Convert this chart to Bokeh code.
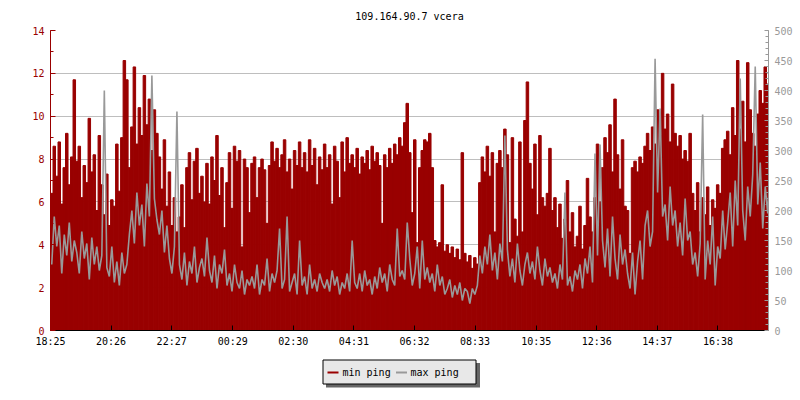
from bokeh.plotting import figure
from bokeh.layouts import column
from bokeh.core.properties import value
from bokeh.models import (Range1d, LinearAxis, SingleIntervalTicker, FixedTicker)
from bokeh.embed import file_html
from bokeh.resources import INLINE

title_text = "109.164.90.7 vcera"
start_time = "18:25"
step_min = 5
tick_labels = ["18:25", "20:26", "22:27", "00:29", "02:30", "04:31",
               "06:32", "08:33", "10:35", "12:36", "14:37", "16:38"]
series_names = ["min ping", "max ping"]

min_ping = [
    6.4, 8.6, 7.2, 8.8, 5.9, 7.6, 9.2, 6.8, 8.1, 11.7,
    7.9, 8.6, 6.2, 7.7, 6.9, 9.9, 7.4, 8.2, 5.6, 9.1,
    6.8, 5.4, 7.3, 4.9, 6.1, 5.8, 8.7, 6.5, 9.0, 12.6,
    11.7, 7.6, 9.5, 12.3, 8.7, 10.4, 9.1, 11.9, 9.6, 10.8,
    8.4, 10.3, 9.2, 8.1, 6.6, 8.9, 5.8, 7.4, 4.9, 6.2,
    4.6, 5.3, 6.8, 4.8, 7.6, 8.3, 6.1, 7.9, 8.5, 6.4,
    7.2, 6.0, 7.8, 5.9, 8.1, 7.0, 9.1, 6.3, 7.6, 4.8,
    6.9, 8.3, 5.7, 8.6, 7.9, 8.4, 3.9, 8.0, 7.6, 5.5,
    7.8, 8.1, 6.2, 7.6, 8.0, 7.5, 5.0, 7.7, 8.8, 7.9,
    8.5, 7.6, 8.2, 8.9, 7.4, 8.0, 6.6, 8.4, 7.7, 8.8,
    7.6, 8.3, 7.4, 8.9, 7.7, 8.5, 6.8, 8.1, 7.5, 8.7,
    7.6, 8.2, 5.9, 8.6, 7.9, 6.2, 8.8, 7.4, 9.0, 7.8,
    8.2, 7.6, 8.5, 7.3, 8.1, 7.8, 8.4, 7.5, 8.6, 7.9,
    8.3, 7.7, 5.0, 8.2, 7.6, 8.5, 7.8, 8.7, 8.2, 9.0,
    8.6, 9.7, 10.6, 8.3, 5.5, 8.9, 4.1, 7.6, 8.4, 8.9,
    8.8, 9.2, 7.6, 4.2, 3.9, 4.1, 6.8, 3.7, 4.0, 3.6,
    3.9, 3.4, 3.8, 3.3, 8.3, 3.6, 3.2, 3.5, 2.9, 3.4,
    3.1, 6.9, 8.1, 7.4, 8.6, 7.2, 8.3, 4.6, 7.8, 8.4,
    7.6, 9.4, 8.2, 4.1, 9.0, 5.2, 4.4, 8.8, 4.6, 9.8,
    11.6, 7.8, 6.6, 8.7, 5.4, 9.1, 6.2, 5.8, 6.4, 8.5,
    5.6, 6.2, 4.8, 5.9, 4.3, 5.2, 7.0, 4.6, 5.5, 3.9,
    4.4, 5.8, 3.8, 4.9, 7.1, 5.3, 4.6, 6.2, 8.7, 6.0,
    7.6, 9.0, 8.3, 9.6, 7.4, 10.8, 8.2, 6.6, 8.9, 5.8,
    5.6, 3.6, 7.6, 7.9, 7.4, 8.1, 7.8, 8.6, 9.2, 8.4,
    9.5, 8.7, 10.3, 9.1, 12.0, 9.4, 10.1, 8.8, 11.5, 9.2,
    8.6, 9.1, 8.0, 8.4, 7.9, 9.2, 6.4, 5.6, 6.9, 4.6,
    6.2, 5.4, 6.7, 4.9, 6.1, 5.7, 6.8, 6.4, 8.5, 8.9,
    9.3, 8.2, 10.4, 9.1, 12.6, 9.4, 10.7, 8.8, 12.5, 10.3,
    9.2, 8.6, 10.1, 11.2, 10.6, 12.3, 11.5, 12.4,
]

max_ping = [
    110, 190, 140, 175, 95, 160, 125, 180, 115, 150,
    130, 95, 165, 120, 145, 85, 155, 110, 140, 100,
    125, 400, 105, 90, 140, 80, 115, 75, 130, 95,
    110, 160, 200, 145, 230, 175, 210, 140, 245, 190,
    425, 220, 185, 160, 200, 130, 175, 120, 95, 140,
    365, 110, 85, 130, 75, 115, 95, 140, 80, 105,
    120, 90, 155, 100, 80, 125, 70, 110, 95, 135,
    75, 95, 65, 110, 80, 70, 100, 60, 85, 75,
    90, 70, 110, 60, 85, 75, 120, 65, 95, 80,
    100, 170, 70, 85, 190, 65, 80, 95, 60, 150,
    75, 90, 60, 110, 70, 85, 65, 95, 80, 70,
    85, 65, 100, 75, 90, 60, 80, 70, 95, 65,
    150, 80, 70, 95, 65, 100, 75, 85, 60, 90,
    70, 105, 80, 95, 65, 110, 85, 75, 170, 90,
    100, 85, 180, 120, 75, 95, 140, 70, 150, 85,
    105, 80, 95, 65, 110, 75, 90, 60, 70, 85,
    55, 75, 60, 80, 50, 70, 65, 45, 70, 60,
    75, 125, 95, 140, 110, 160, 100, 130, 85, 145,
    115, 325, 135, 90, 120, 80, 145, 100, 75, 110,
    130, 95, 115, 85, 140, 100, 75, 120, 90, 105,
    80, 95, 70, 110, 85, 230, 75, 90, 65, 100,
    85, 110, 70, 120, 95, 140, 80, 295, 125, 310,
    150, 105, 170, 90, 190, 120, 85, 160, 110, 135,
    95, 70, 130, 60, 115, 150, 85, 175, 200, 140,
    165, 453, 230, 370, 190, 210, 150, 240, 175, 200,
    140, 180, 125, 220, 150, 165, 110, 130, 90, 145,
    360, 85, 150, 110, 190, 75, 140, 120, 200, 135,
    180, 230, 140, 250, 175, 420, 200, 150, 240, 190,
    260, 440, 210, 280, 170, 240, 195, 280,
]

RED = "#990000"
GRAY = "#999999"
FONT = "DejaVu Sans Mono"
FS = "10px"


def to_min(s):
    h, m = s.split(":")
    return int(h) * 60 + int(m)


t0 = to_min(start_time)
tick_pos = [(to_min(s) - t0) % 1440 for s in tick_labels]
xs = [step_min * i + step_min / 2 for i in range(len(min_ping))]

FW, LEFT, RIGHT = 718, 50, 32

p = figure(frame_width=FW, frame_height=300,
           x_range=Range1d(0, 1434), y_range=Range1d(0, 14),
           output_backend="svg", toolbar_location=None,
           min_border_left=LEFT, min_border_right=RIGHT, min_border_top=0,
           min_border_bottom=22, outline_line_color=None,
           background_fill_color="white", border_fill_color="white")
p.extra_y_ranges = {"right": Range1d(0, 500)}

p.title.text = title_text
p.title.align = "center"
p.title.text_font = FONT
p.title.text_font_size = FS
p.title.text_font_style = "normal"
p.title.text_color = "black"
p.title.standoff = 17

# min ping area (bars)
p.vbar(x=xs, top=min_ping, bottom=0, width=step_min,
       fill_color=RED, line_color=RED, line_width=1)
# max ping line on right axis
p.line(xs, max_ping, y_range_name="right", line_color=GRAY, line_width=1.6)

# x axis
xa = p.xaxis[0]
xa.ticker = FixedTicker(ticks=tick_pos)
xa.major_label_overrides = {tp: lab for tp, lab in zip(tick_pos, tick_labels)}
xa.axis_line_color = "black"
xa.major_tick_line_color = "black"
xa.major_tick_in = 5
xa.major_tick_out = 0
xa.minor_tick_line_color = None
xa.major_label_text_font = FONT
xa.major_label_text_font_size = FS
xa.major_label_text_color = "black"
xa.major_label_standoff = 5
p.xgrid.visible = False

# left axis
ya = p.yaxis[0]
ya.ticker = SingleIntervalTicker(interval=2, num_minor_ticks=2)
ya.axis_line_color = RED
ya.major_tick_line_color = RED
ya.minor_tick_line_color = RED
ya.major_tick_in = 5
ya.major_tick_out = 0
ya.minor_tick_in = 3
ya.minor_tick_out = 0
ya.major_label_text_font = FONT
ya.major_label_text_font_size = FS
ya.major_label_text_color = RED
ya.major_label_standoff = 6
p.ygrid.grid_line_color = "#bebebe"
p.ygrid.grid_line_width = 1

# right axis
ra = LinearAxis(y_range_name="right",
                ticker=SingleIntervalTicker(interval=50, num_minor_ticks=5))
ra.axis_line_color = GRAY
ra.major_tick_line_color = GRAY
ra.minor_tick_line_color = GRAY
ra.major_tick_in = 4
ra.major_tick_out = 0
ra.minor_tick_in = 3
ra.minor_tick_out = 0
ra.major_label_text_font = FONT
ra.major_label_text_font_size = FS
ra.major_label_text_color = GRAY
ra.major_label_standoff = 6
p.add_layout(ra, "right")

# legend strip below the chart: a small canvas in pixel units (1 unit = 1px),
# frame aligned with the chart frame
LH = 48
q = figure(title=None, frame_width=FW, frame_height=LH,
           x_range=Range1d(0, FW), y_range=Range1d(0, LH),
           x_axis_type=None, y_axis_type=None,
           output_backend="svg", toolbar_location=None,
           min_border_left=LEFT, min_border_right=RIGHT, min_border_top=0,
           min_border_bottom=0, outline_line_color=None,
           background_fill_color="white", border_fill_color="white")
q.xgrid.visible = False
q.ygrid.visible = False

# drop shadow, box
q.quad(left=[275.5], right=[429.5], bottom=[13], top=[37.5],
       fill_color="#666666", line_color=None)
q.quad(left=[272.5], right=[425.5], bottom=[16.5], top=[40.5],
       fill_color="#e8e8e8", line_color="black", line_width=1)
# legend keys
key_colors = [RED, GRAY]
key_x0 = [277, 345.5]
key_x1 = [288, 356.5]
q.segment(x0=key_x0, x1=key_x1, y0=[28, 28], y1=[28, 28],
          line_color=key_colors, line_width=2)
q.text(x=[292, 360], y=[28.5, 28.5], text=series_names,
       text_font=value(FONT), text_font_size=value(FS),
       text_baseline="middle", text_align="left", text_color="black")

layout = column(p, q, spacing=0)
open("out.html", "w").write(file_html(layout, INLINE))
